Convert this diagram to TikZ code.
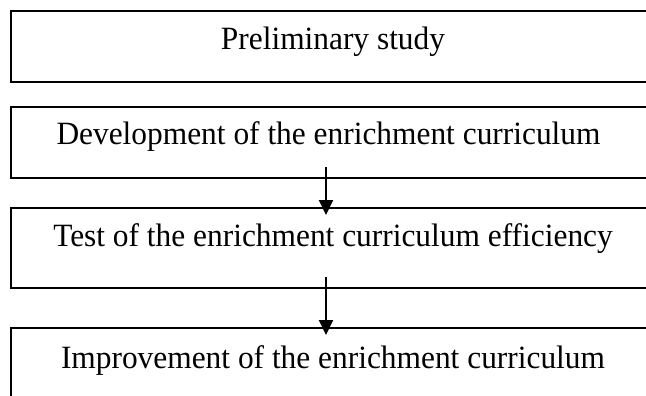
\documentclass[tikz,border=0pt]{standalone}
\usepackage{fontspec}
\setmainfont{Liberation Serif}
\usetikzlibrary{arrows.meta}
\begin{document}
\begin{tikzpicture}[x=1pt,y=-1pt,
  stage/.style={draw, line width=2pt, rectangle, minimum width=643.5pt, anchor=north west, inner sep=0pt},
  stagetext/.style={anchor=base, inner sep=0pt, font=\fontsize{32.5}{39}\selectfont},
  flow/.style={line width=2pt, -{Triangle[length=15pt,width=14pt]}}]
\useasboundingbox (0,0) rectangle (646,396);
\clip (0,0) rectangle (646,396);
\node[stage, minimum height=71pt] (b1) at (9.5,10) {};
\node[stage, minimum height=71pt] (b2) at (9.5,106) {};
\node[stage, minimum height=80pt] (b3) at (9.5,207) {};
\node[stage, minimum height=90pt] (b4) at (9.5,327) {};
\node[stagetext, xscale=0.966] (t1) at (333,50) {Preliminary study};
\node[stagetext, xscale=0.966] (t2) at (328.5,145) {Development of the enrichment curriculum};
\node[stagetext, xscale=0.966] (t3) at (333,246.7) {Test of the enrichment curriculum efficiency};
\node[stagetext, xscale=0.966] (t4) at (333,368) {Improvement of the enrichment curriculum};
\coordinate (a1s) at (326,167);
\coordinate (a1e) at (326,215);
\coordinate (a2s) at (326,277);
\coordinate (a2e) at (326,335);
\draw[flow] (a1s) -- (a1e);
\draw[flow] (a2s) -- (a2e);
\end{tikzpicture}
\end{document}
